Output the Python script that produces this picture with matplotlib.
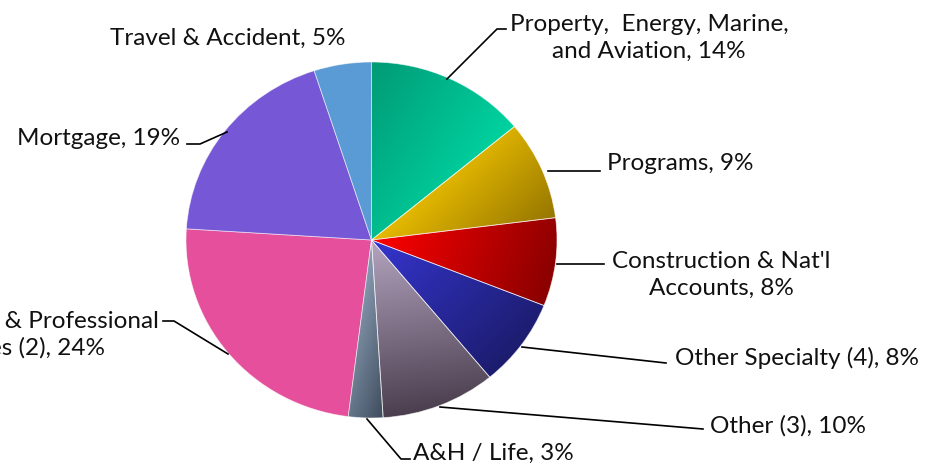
import numpy as np
import matplotlib
matplotlib.use('Agg')
import matplotlib.pyplot as plt
from matplotlib.colors import LinearSegmentedColormap

# segment shares, clockwise from 12 o'clock
names = ['Property,  Energy, Marine,\nand Aviation', 'Programs', "Construction & Nat'l\nAccounts",
         'Other Specialty (4)', 'Other (3)', 'A&H / Life', 'Financial & Professional\nLines (2)',
         'Mortgage', 'Travel & Accident']
shares = [14, 9, 8, 8, 10, 3, 24, 19, 5]

# (start colour, end colour, gradient direction on screen) - None = flat fill
fills = [('#009A76', '#00D3A0', (1.0, 0.6)),
         ('#E6BA00', '#967600', (1.0, 1.0)),
         ('#FF0000', '#8A0000', (1.0, 0.35)),
         ('#3535CF', '#1C1C6E', (1.0, 1.0)),
         ('#B4A4C0', '#4A3E4E', (0.15, 1.0)),
         ('#8C9EB6', '#3E4C5C', (1.0, 0.3)),
         ('#E54F9B', None, None),
         ('#7658D6', None, None),
         ('#5B9BD5', None, None)]

W, H = 928, 464
# the pie in the source is a touch wider than tall
k = 185.5 / 178.0
cx, cy, r = 371.5, 241 * k, 185.5


def py(y):
    # pixel row -> data y
    return y * k


fig = plt.figure(figsize=(W / 100, H / 100), dpi=100)
ax = fig.add_axes([0, 0, 1, 1])

# y axis runs downward so counterclock=True draws clockwise on screen
wedges, _ = ax.pie(shares, center=(cx, cy), radius=r, startangle=-90, counterclock=True,
                   colors=[f[0] for f in fills],
                   wedgeprops=dict(edgecolor=(1, 1, 1, 0.6), linewidth=0.6))

n = 400
xs = np.linspace(cx - r, cx + r, n)
ys = np.linspace(cy - r, cy + r, n)
X, Y = np.meshgrid(xs, ys)
for w, (c0, c1, d) in zip(wedges, fills):
    if c1 is None:
        continue
    d = np.array(d) / np.hypot(*d)
    verts = w.get_path().vertices
    proj = verts @ d
    t = (X * d[0] + Y * d[1] - proj.min()) / (proj.max() - proj.min())
    cmap = LinearSegmentedColormap.from_list('g', [c0, c1])
    im = ax.imshow(np.clip(t, 0, 1), cmap=cmap, vmin=0, vmax=1, origin='upper',
                   extent=(cx - r, cx + r, cy + r, cy - r), interpolation='bilinear', zorder=1.5)
    im.set_clip_path(w)
    w.set_facecolor('none')
    w.set_zorder(2)

ax.set_xlim(0, W)
ax.set_ylim(H * k, 0)
ax.set_aspect('auto')
ax.axis('off')

# label centres (pixels) and leader lines
label_pos = [(649, 38), (680, 164), (721, 275), (797, 358), (788, 426), (493, 453),
             (31, 335), (99, 139), (228, 38)]
leaders = [[(447, 80), (497, 30), (506, 30)],
           [(548, 172), (600, 172)],
           [(557, 265), (604, 265)],
           [(522, 348), (666, 364)],
           [(440, 408), (703, 430)],
           [(367, 420), (401, 460), (410, 460)],
           [(228, 355), (174, 322), (163, 322)],
           [(227, 133), (200, 145), (187, 145)],
           []]

for name, s, (lx, ly), pts in zip(names, shares, label_pos, leaders):
    ax.text(lx, py(ly), f'{name}, {s}%', ha='center', va='center', fontsize=17.5,
            family=['Lato', 'DejaVu Sans'], color='#111111', linespacing=1.3)
    if pts:
        xx, yy = zip(*pts)
        ax.plot(xx, [py(v) for v in yy], color='black', lw=1.2, zorder=3)

fig.savefig('out.png', dpi=100)
